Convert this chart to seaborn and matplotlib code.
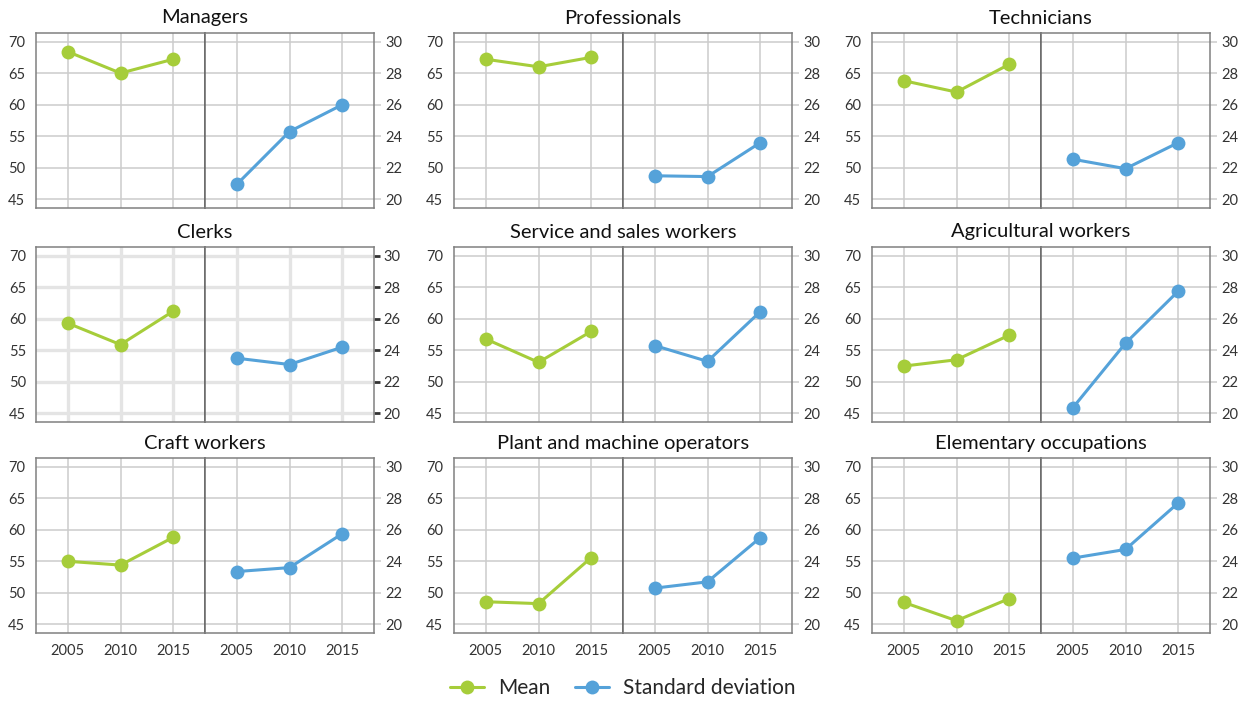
import matplotlib
matplotlib.use('Agg')
import matplotlib.pyplot as plt
from matplotlib.lines import Line2D
import seaborn as sns

years = [2005, 2010, 2015]

groups = ['Managers', 'Professionals', 'Technicians',
          'Clerks', 'Service and sales workers', 'Agricultural workers',
          'Craft workers', 'Plant and machine operators', 'Elementary occupations']

mean_vals = [
    [68.4, 65.0, 67.2],
    [67.2, 66.0, 67.5],
    [63.8, 62.0, 66.4],
    [59.3, 55.9, 61.2],
    [56.8, 53.1, 58.0],
    [52.5, 53.5, 57.4],
    [55.0, 54.4, 58.8],
    [48.6, 48.3, 55.6],
    [48.5, 45.6, 49.1],
]

sd_vals = [
    [20.95, 24.3, 26.0],
    [21.5, 21.45, 23.6],
    [22.55, 21.95, 23.6],
    [23.5, 23.1, 24.2],
    [24.3, 23.3, 26.45],
    [20.35, 24.45, 27.75],
    [23.35, 23.6, 25.75],
    [22.3, 22.7, 25.5],
    [24.2, 24.75, 27.7],
]

green = '#a6cd3a'
blue = '#55a2d9'

sns.set_style('white')
plt.rcParams['font.family'] = ['Lato', 'DejaVu Sans']

W, H = 1246, 702
fig = plt.figure(figsize=(W / 100, H / 100), dpi=100)

col_left = [36, 454, 872]
half_w = 169
row_top = [33, 247, 458]
ax_h = 175


def style_half(ax, clerks):
    ax.set_xlim(2002, 2018)
    ax.set_xticks(years)
    if clerks:
        gcol, glw = '#e4e4e4', 2.4
        ax.tick_params(axis='y', length=4, width=2, color='#333333')
    else:
        gcol, glw = '#cccccc', 1.1
        ax.tick_params(axis='y', length=5, width=1.1, color='#cccccc')
    ax.grid(True, color=gcol, linewidth=glw)
    ax.set_axisbelow(True)
    ax.tick_params(axis='x', length=0, pad=8, labelsize=10.5, labelcolor='#333333')
    ax.tick_params(axis='y', labelsize=10.5, labelcolor='#333333', pad=3)
    for s in ax.spines.values():
        s.set_color('#808080')
        s.set_linewidth(1.1)
    ax.set_xlabel('')
    ax.set_ylabel('')


for i, name in enumerate(groups):
    r, c = divmod(i, 3)
    clerks = name == 'Clerks'
    x0 = col_left[c] / W
    y0 = 1 - (row_top[r] + ax_h) / H
    axL = fig.add_axes([x0, y0, half_w / W, ax_h / H])
    axR = fig.add_axes([x0 + half_w / W, y0, half_w / W, ax_h / H])

    sns.lineplot(x=years, y=mean_vals[i], ax=axL, color=green, marker='o',
                 markersize=10, markeredgewidth=0, linewidth=2.2)
    sns.lineplot(x=years, y=sd_vals[i], ax=axR, color=blue, marker='o',
                 markersize=10, markeredgewidth=0, linewidth=2.2)

    axL.set_ylim(43.65, 71.35)
    axL.set_yticks([45, 50, 55, 60, 65, 70])
    axR.set_ylim(19.46, 30.54)
    axR.set_yticks([20, 22, 24, 26, 28, 30])
    axR.yaxis.tick_right()

    style_half(axL, clerks)
    style_half(axR, clerks)
    axL.spines['right'].set_color('#666666')
    axR.spines['left'].set_color('#666666')

    if r < 2:
        axL.set_xticklabels([])
        axR.set_xticklabels([])

    fig.text((col_left[c] + half_w) / W, 1 - (row_top[r] - 15) / H, name,
             ha='center', va='center', fontsize=14.5, color='#111111')

handles = [
    Line2D([0], [0], color=green, marker='o', markersize=10, markeredgewidth=0, linewidth=2.2),
    Line2D([0], [0], color=blue, marker='o', markersize=10, markeredgewidth=0, linewidth=2.2),
]
fig.legend(handles, ['Mean', 'Standard deviation'], loc='center',
           bbox_to_anchor=(0.5, 1 - 688 / H), ncol=2, frameon=False,
           fontsize=15, handlelength=1.6, columnspacing=1.2, handletextpad=0.7)

fig.savefig('out.png', dpi=100)
